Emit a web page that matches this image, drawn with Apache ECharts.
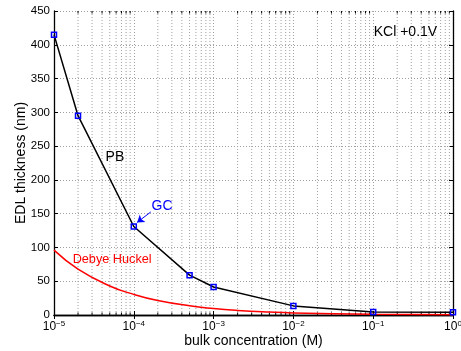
<!DOCTYPE html>
<html>
<head>
<meta charset="utf-8">
<script src="https://cdn.jsdelivr.net/npm/echarts@6/dist/echarts.min.js"></script>
<style>html,body{margin:0;padding:0;background:#fff;}#c{width:461px;height:351px;}</style>
</head>
<body>
<div id="c"></div>
<script>
// PB (Poisson-Boltzmann) computed points
const pbConc = [1e-5, 2e-5, 1e-4, 5e-4, 1e-3, 1e-2, 1e-1, 1];
const pbThickness = [415, 295, 131, 59, 41.5, 13.5, 4.5, 4];
// Debye-Huckel curve
const dhConc = [1e-5, 2e-5, 5e-5, 1e-4, 2e-4, 5e-4, 1e-3, 2e-3, 5e-3, 1e-2, 1e-1, 1];
const dhThickness = [96, 68, 43, 30.5, 21.5, 13.6, 9.6, 6.8, 4.3, 3, 1, 0.3];
// axis ticks
const xMajorTicks = [1e-5, 1e-4, 1e-3, 1e-2, 1e-1, 1];
const yTicks = [0, 50, 100, 150, 200, 250, 300, 350, 400, 450];
// annotations: [x, y, text, colour, font size]
const annotations = [
  [0.2535, 419, 'KCl +0.1V', '#000000', 14],
  [5.8e-5, 233.5, 'PB', '#000000', 14],
  [2.26e-4, 161, 'GC', '#0000ff', 14],
  [5.35e-5, 81.5, 'Debye Huckel', '#ff0000', 12.7]
];
const arrowFrom = [1.63e-4, 152.5];
const arrowTo = [1.1e-4, 137];

const minorX = [];
for (let k = 0; k < xMajorTicks.length - 1; k++) {
  for (let m = 2; m <= 9; m++) minorX.push(xMajorTicks[k] * m);
}

const FONT = 'Liberation Sans, Arial, sans-serif';
const chart = echarts.init(document.getElementById('c'), null, {renderer: 'canvas'});

function xFmt(v) {
  const e = Math.round(Math.log10(v));
  return '{b|10}{s|' + String(e).replace('-', '\u2212') + '}';
}

const gridDot = {color: '#a0a0a0', type: [1, 2], width: 1};

chart.setOption({
  animation: false,
  backgroundColor: '#fff',
  grid: {left: 54, right: 8, top: 11, bottom: 36, containLabel: false, outerBoundsMode: 'none'},
  xAxis: [{
    type: 'log', logBase: 10, min: xMajorTicks[0], max: xMajorTicks[xMajorTicks.length - 1],
    position: 'bottom',
    name: 'bulk concentration (M)', nameLocation: 'middle', nameGap: 19, nameMoveOverlap: false,
    nameTextStyle: {fontFamily: FONT, fontSize: 14, color: '#000'},
    axisLine: {lineStyle: {color: '#000', width: 1.3}},
    axisTick: {inside: true, length: 4, lineStyle: {color: '#000'}},
    axisLabel: {
      formatter: xFmt, margin: 2, color: '#000',
      rich: {
        b: {fontFamily: FONT, fontSize: 12, color: '#000', padding: [4, 0, 0, 0]},
        s: {fontFamily: FONT, fontSize: 8, color: '#000', padding: [0, 0, 3, 0]}
      }
    },
    splitLine: {show: true, lineStyle: gridDot}
  }, {
    type: 'log', logBase: 10, min: xMajorTicks[0], max: xMajorTicks[xMajorTicks.length - 1],
    position: 'top',
    axisLine: {lineStyle: {color: '#000', width: 1.3}},
    axisTick: {inside: true, length: 4, lineStyle: {color: '#000'}},
    axisLabel: {show: false},
    splitLine: {show: false}
  }],
  yAxis: [{
    type: 'value', min: yTicks[0], max: yTicks[yTicks.length - 1], interval: 50,
    position: 'left',
    name: 'EDL thickness (nm)', nameLocation: 'middle', nameGap: 26, nameRotate: 90, nameMoveOverlap: false,
    nameTextStyle: {fontFamily: FONT, fontSize: 14, color: '#000'},
    axisLine: {show: true, lineStyle: {color: '#000', width: 1.3}},
    axisTick: {show: true, inside: true, length: 4, lineStyle: {color: '#000'}},
    axisLabel: {fontFamily: FONT, fontSize: 11.5, color: '#000', margin: 4},
    splitLine: {show: true, lineStyle: gridDot}
  }, {
    type: 'value', min: yTicks[0], max: yTicks[yTicks.length - 1], interval: 50,
    position: 'right',
    axisLine: {show: true, lineStyle: {color: '#000', width: 1.3}},
    axisTick: {show: true, inside: true, length: 4, lineStyle: {color: '#000'}},
    axisLabel: {show: false},
    splitLine: {show: false}
  }],
  series: [
    {
      // minor log grid lines and minor ticks
      type: 'custom', xAxisIndex: 0, yAxisIndex: 0, silent: true, z: 1,
      data: minorX.map(v => [v]),
      renderItem: function (params, api) {
        const x = api.coord([api.value(0), 0])[0];
        const yb = api.coord([api.value(0), yTicks[0]])[1];
        const yt = api.coord([api.value(0), yTicks[yTicks.length - 1]])[1];
        return {
          type: 'group',
          children: [
            {type: 'line', shape: {x1: x, y1: yb, x2: x, y2: yt}, style: {stroke: '#a0a0a0', lineWidth: 1, lineDash: [1, 2]}},
            {type: 'line', shape: {x1: x, y1: yb, x2: x, y2: yb - 2.5}, style: {stroke: '#000', lineWidth: 1}},
            {type: 'line', shape: {x1: x, y1: yt, x2: x, y2: yt + 2.5}, style: {stroke: '#000', lineWidth: 1}}
          ]
        };
      }
    },
    {
      name: 'Debye Huckel', type: 'line', smooth: true, showSymbol: false, z: 3,
      data: dhConc.map((c, i) => [c, dhThickness[i]]),
      lineStyle: {color: '#ff0000', width: 1.5},
      itemStyle: {color: '#ff0000'}
    },
    {
      name: 'PB', type: 'line', z: 4,
      data: pbConc.map((c, i) => [c, pbThickness[i]]),
      symbol: 'rect', symbolSize: 5,
      lineStyle: {color: '#000', width: 1.5},
      itemStyle: {color: 'rgba(0,0,0,0)', borderColor: '#0000ff', borderWidth: 1.5},
      markLine: {
        silent: true, symbol: ['none', 'arrow'], symbolSize: 7,
        lineStyle: {color: '#0000ff', width: 1, type: 'solid'},
        label: {show: false},
        data: [[{coord: arrowFrom}, {coord: arrowTo}]]
      }
    },
    {
      type: 'scatter', symbolSize: 0, z: 5, silent: true,
      itemStyle: {opacity: 1},
      data: annotations.map(a => ({value: [a[0], a[1]], name: a[2], label: {color: a[3], fontSize: a[4]}})),
      label: {
        show: true, position: 'inside', formatter: p => p.name,
        fontFamily: FONT, fontSize: 14
      }
    }
  ]
});
</script>
</body>
</html>
